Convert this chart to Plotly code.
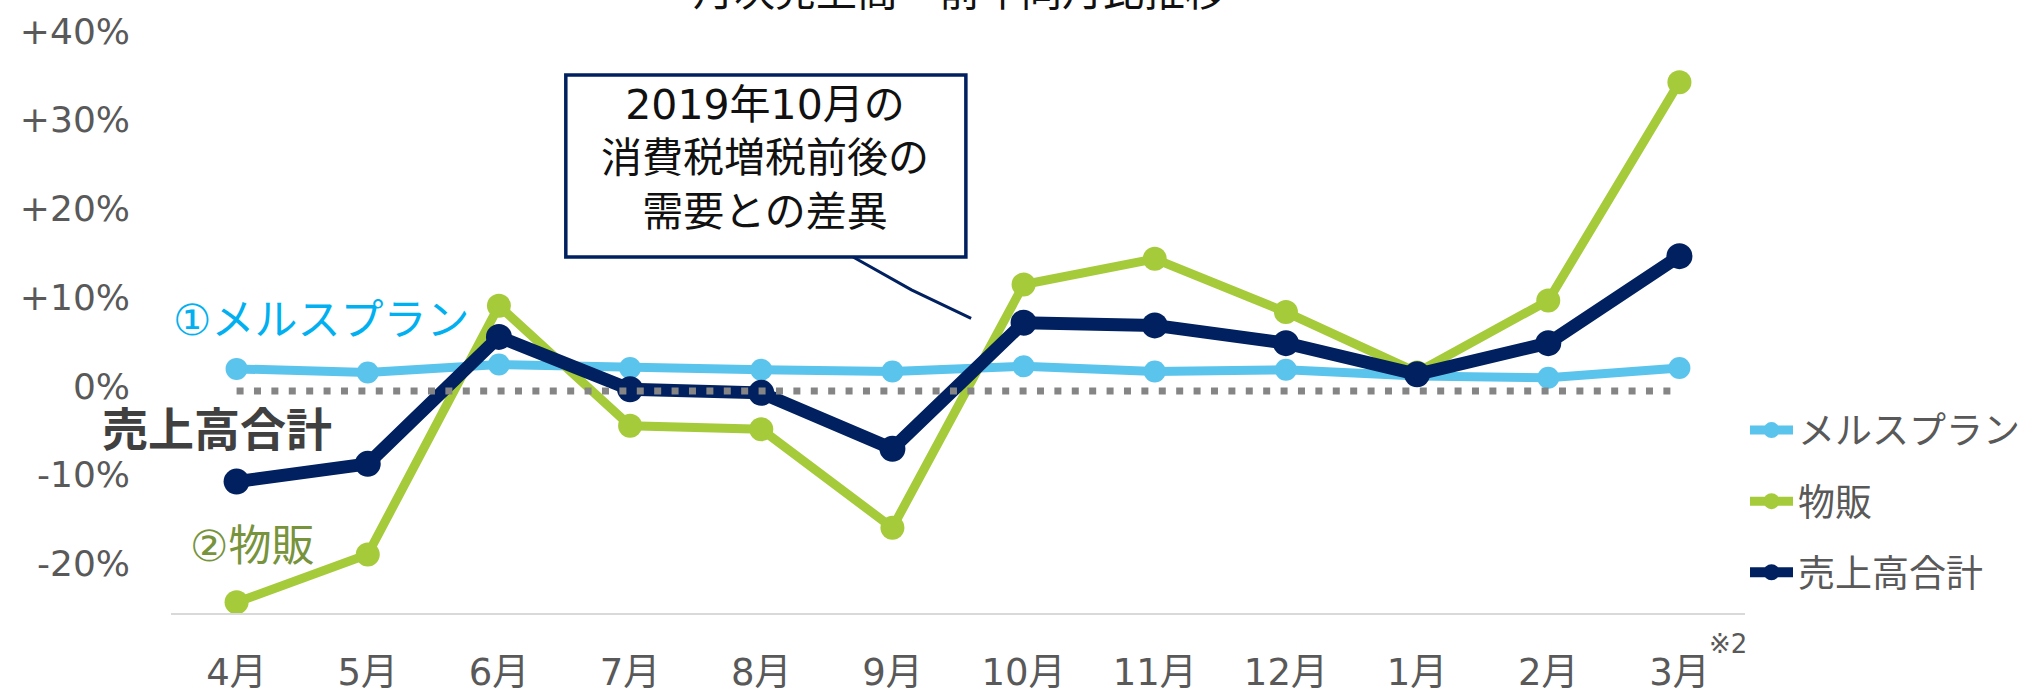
import plotly.graph_objects as go

# ---- data ----
months = ["4月", "5月", "6月", "7月", "8月", "9月", "10月", "11月", "12月", "1月", "2月", "3月"]
merus_plan = [2.5, 2.1, 3.0, 2.6, 2.4, 2.2, 2.8, 2.2, 2.4, 1.7, 1.5, 2.6]
buppan = [-23.8, -18.4, 9.6, -3.9, -4.3, -15.4, 12.0, 14.9, 8.9, 2.1, 10.2, 34.8]
total = [-10.2, -8.2, 6.1, 0.2, -0.2, -6.5, 7.7, 7.4, 5.4, 1.9, 5.4, 15.2]
y_tickvals = [40, 30, 20, 10, 0, -10, -20]
y_ticktext = ["+40%", "+30%", "+20%", "+10%", "0%", "-10%", "-20%"]
series_names = ["メルスプラン", "物販", "売上高合計"]

x_idx = list(range(len(months)))

LB = "#5BC4EC"
GR = "#A5CB3A"
NV = "#00205F"
GRAY = "#595959"
FONT = "DejaVu Sans, Noto Sans CJK JP"

fig = go.Figure()
fig.add_trace(go.Scatter(x=x_idx, y=merus_plan, name=series_names[0], mode="lines+markers",
                         line=dict(color=LB, width=9), marker=dict(size=22, color=LB),
                         legendgroup="a"))
fig.add_trace(go.Scatter(x=x_idx, y=buppan, name=series_names[1], mode="lines+markers",
                         line=dict(color=GR, width=9), marker=dict(size=24, color=GR),
                         legendgroup="b"))
fig.add_trace(go.Scatter(x=x_idx, y=total, name=series_names[2], mode="lines+markers",
                         line=dict(color=NV, width=13), marker=dict(size=26, color=NV),
                         legendgroup="c"))
# zero reference dotted line
fig.add_trace(go.Scatter(x=[x_idx[0], x_idx[-1]], y=[0, 0], mode="lines",
                         line=dict(color="#858585", width=7, dash="7px,10.4px"),
                         showlegend=False, hoverinfo="skip"))

# callout box + leader line
fig.add_shape(type="rect", xref="x", yref="y", x0=2.51, x1=5.56, y0=15.1, y1=35.6,
              line=dict(color=NV, width=3.5), fillcolor="white")
fig.add_shape(type="path", xref="x", yref="y",
              path="M 4.70,15.1 L 5.145,11.4 L 5.60,8.2",
              line=dict(color=NV, width=3))

annotations = [
    dict(text="2019年10月の<br>消費税増税前後の<br>需要との差異", x=4.03, y=26.2, xref="x", yref="y",
         showarrow=False, font=dict(size=41, color="#111111", family=FONT)),
    dict(text="①メルスプラン", x=-0.5, y=8.0, xref="x", yref="y", xanchor="left",
         showarrow=False, font=dict(size=43, color="#00B0F0", family=FONT)),
    dict(text="<b>売上高合計</b>", x=-0.0451, y=0.317, xref="paper", yref="paper", xanchor="left",
         yanchor="middle", showarrow=False, font=dict(size=46, color="#404040", family=FONT)),
    dict(text="②物販", x=-0.37, y=-17.5, xref="x", yref="y", xanchor="left",
         showarrow=False, font=dict(size=43, color="#77933C", family=FONT)),
    dict(text="月次売上高　前年同月比推移", x=0.501, y=1.031, xref="paper", yref="paper",
         xanchor="center", yanchor="bottom", showarrow=False,
         font=dict(size=41, color="#111111", family=FONT)),
    dict(text="※2", x=0.989, y=-0.0537, xref="paper", yref="paper", xanchor="center",
         yanchor="middle", showarrow=False, font=dict(size=26, color=GRAY, family=FONT)),
]

fig.update_layout(
    width=2026, height=692,
    margin=dict(l=171, r=281, t=36, b=79, autoexpand=False),
    plot_bgcolor="white", paper_bgcolor="white",
    font=dict(family=FONT, color=GRAY),
    annotations=annotations,
    showlegend=True,
    legend=dict(x=1.0, xanchor="left", y=0.37, yanchor="top",
                font=dict(size=37, color=GRAY, family=FONT), itemwidth=43,
                tracegroupgap=20, bgcolor="rgba(0,0,0,0)"),
    xaxis=dict(range=[-0.5, 11.5], tickmode="array", tickvals=x_idx, ticktext=months,
               showgrid=False, zeroline=False, showline=True, linecolor="#D9D9D9", linewidth=2,
               ticks="", tickfont=dict(size=37, color=GRAY, family=FONT), ticklabelstandoff=26,
               automargin=False),
    yaxis=dict(range=[-25, 40], tickmode="array", tickvals=y_tickvals, ticktext=y_ticktext,
               showgrid=False, zeroline=False, showline=False, ticks="",
               tickfont=dict(size=36, color=GRAY, family=FONT), ticklabelstandoff=40,
               ticklabelshift=-5, automargin=False),
)

fig.write_html("out.html", config={"displayModeBar": False},
               post_script="document.body.style.margin='0';")
